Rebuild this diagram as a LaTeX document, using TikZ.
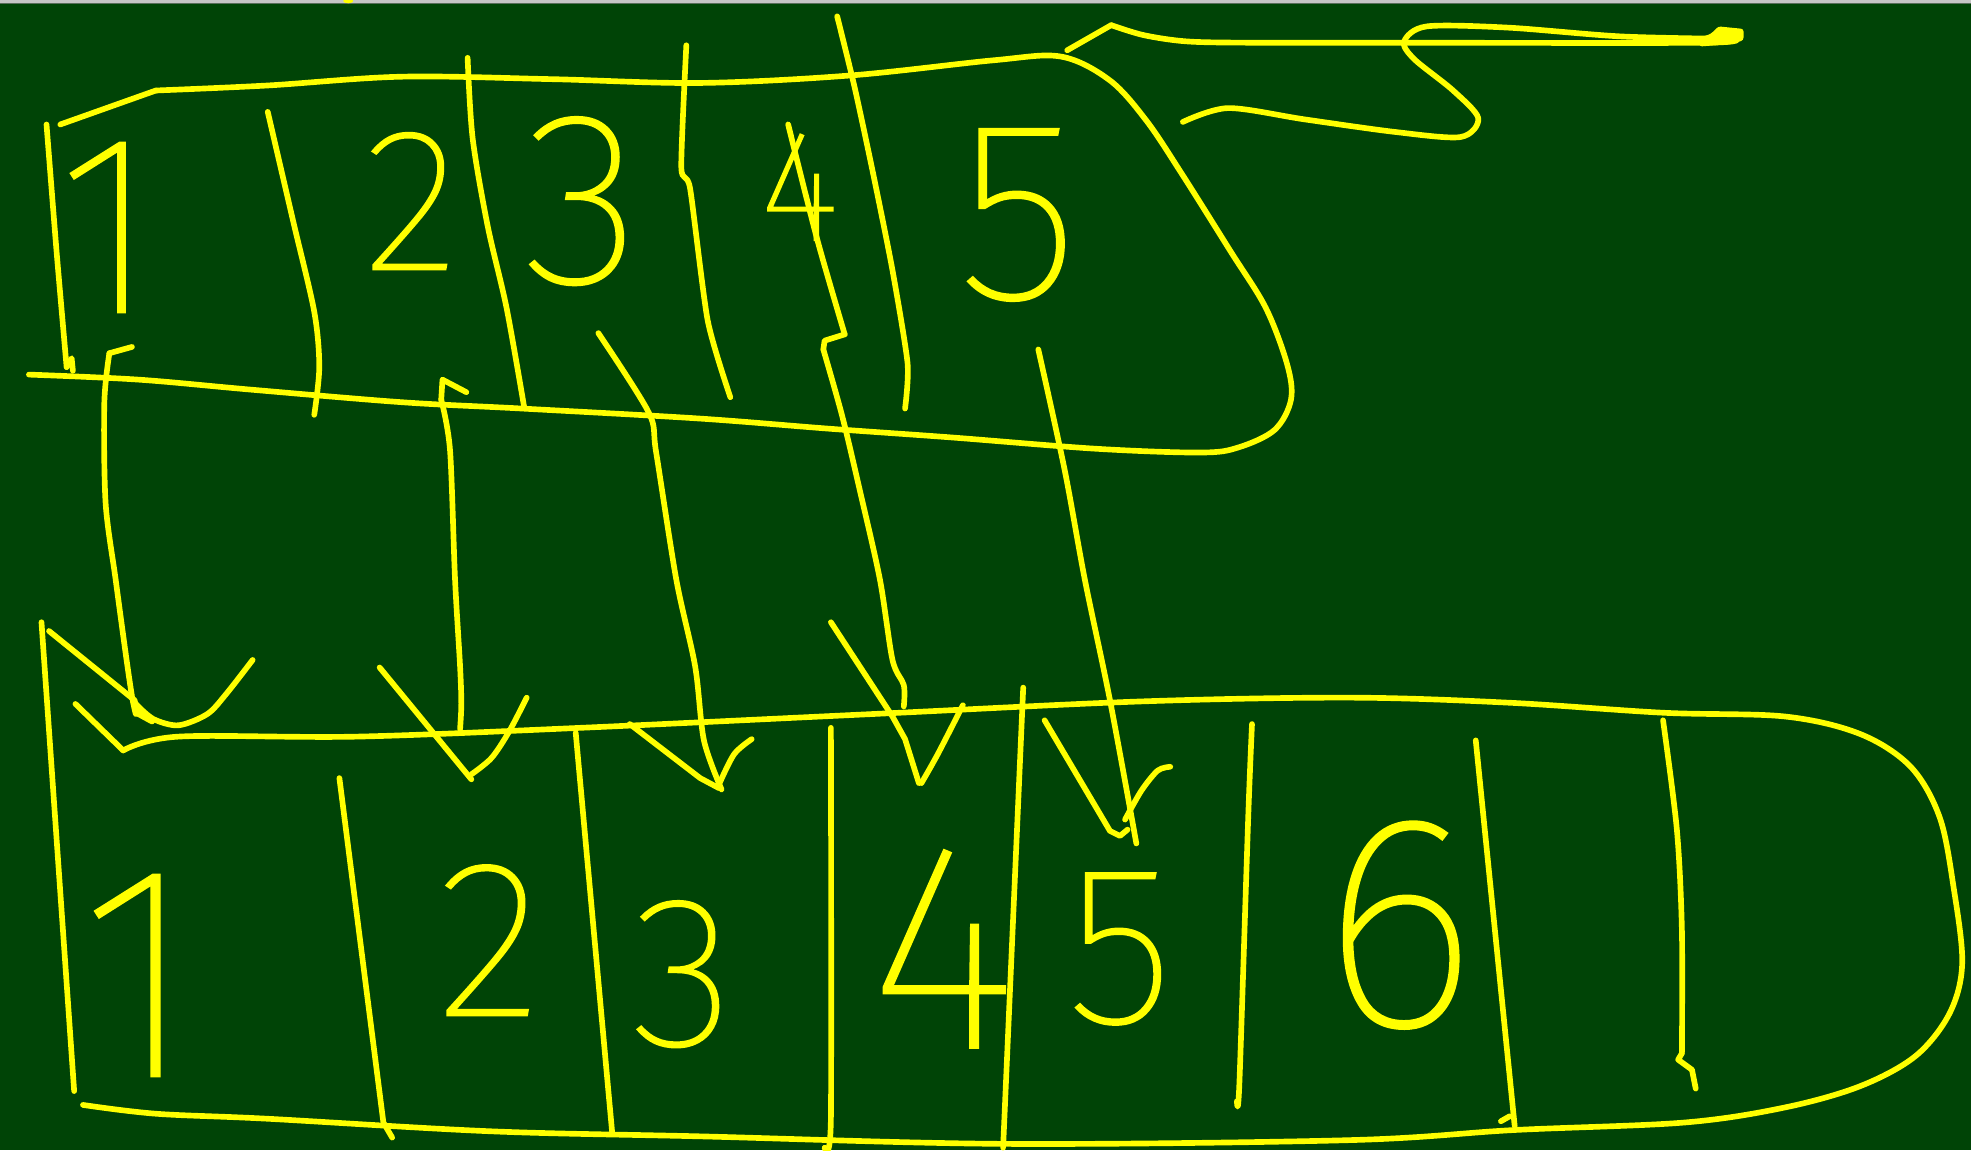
\documentclass[tikz,border=0pt]{standalone}
\usepackage{fontspec}
\IfFontExistsTF{Fira Sans Thin}{\newfontfamily\dfont{Fira Sans Thin}[FakeBold=1.2]}{%
 \IfFontExistsTF{Fira Sans ExtraLight}{\newfontfamily\dfont{Fira Sans ExtraLight}}{%
  \IfFontExistsTF{Lato Hairline}{\newfontfamily\dfont{Lato Hairline}[FakeBold=1.2]}{%
   \IfFontExistsTF{Fira Sans Light}{\newfontfamily\dfont{Fira Sans Light}}{%
    \IfFontExistsTF{Open Sans Light}{\newfontfamily\dfont{Open Sans Light}}{%
     \newfontfamily\dfont{Fira Sans}}}}}}
\newcommand\digsz[1]{\dfont\fontsize{#1}{#1}\selectfont}
\definecolor{board}{RGB}{0,68,6}
\definecolor{chalk}{RGB}{255,255,0}
\begin{document}
\begin{tikzpicture}[x=1pt,y=-1pt,
  chalkline/.style={draw=chalk,line width=4.5pt,line cap=round,line join=round},
  digit/.style={text=chalk,inner sep=0pt,anchor=center}]
\fill[board] (0,0) rectangle (1568,915);
\useasboundingbox (0,0) rectangle (1568,915);
\fill[gray!45] (0,0) rectangle (1568,2);
\fill[gray!70!board] (0,2) rectangle (1568,3.4);
\fill[chalk] (277,0.8) ellipse [x radius=4, y radius=1.8];

% ---------- top box ----------
\draw[chalkline] (48,99) -- (124,72);
\draw[chalkline] plot[smooth,tension=0.55] coordinates {(124,72) (213,68) (320,61) (440,63) (557,66) (677,60) (790,48) (844,45) (883,64) (912,96) (940,138) (979,200) (1007,245) (1024,290) (1027,318) (1014,342) (985,356) (955,360) (872,357) (757,348) (659,341) (557,333) (415,325) (320,320) (200,310) (110,302) (23,298)};
\draw[chalkline] plot[smooth,tension=0.4] coordinates {(37,99) (45,200) (53,292)};
\draw[chalkline] (53,292) -- (57,285) -- (58,295);
\draw[chalkline] plot[smooth,tension=0.5] coordinates {(213,89) (233,175) (250,248) (254,292) (250,330)};
\draw[chalkline] plot[smooth,tension=0.5] coordinates {(372,46) (376,110) (388,180) (403,245) (417,324)};
\draw[chalkline] plot[smooth,tension=0.4] coordinates {(546,36) (542,133) (549,150) (563,255) (581,316)};
\draw[chalkline] plot[smooth,tension=0.4] coordinates {(666,13) (680,70) (695,140) (710,215) (722,289) (720,325)};

% top digits
\node[digit] (t1) at (86,181) {\digsz{203}1};
\node[digit] (t2) at (327,160) {\digsz{161}2};
\node[digit] (t3) at (463,160) {\digsz{195}3};
\node[digit] (t4) at (636,149) {\digsz{125}4};
\node[digit] (t5) at (810,171) {\digsz{203}5};

% scribble top right
\draw[chalkline] (849,40) -- (884,20);
\draw[chalkline] plot[smooth,tension=0.5] coordinates {(884,20) (910,28) (945,33) (1000,34) (1119,34) (1355,34) (1380,31)};
\draw[chalkline] plot[smooth,tension=0.5] coordinates {(941,97) (977,86) (1038,95) (1110,105) (1162,109) (1176,94) (1156,72) (1125,47) (1117,33) (1135,21) (1200,22) (1290,29) (1380,31)};
\fill[chalk, rounded corners=2pt] (1352,30) -- (1361,27) -- (1367,21) -- (1377,22) -- (1387,23) -- (1387,32) -- (1378,35) -- (1352,37) -- cycle;

% ---------- arrows ----------
\draw[chalkline] (105,276) -- (87,281);
\draw[chalkline] plot[smooth,tension=0.5] coordinates {(87,281) (83,320) (84,400) (92,461) (100,520) (105,554) (108,568)};
\draw[chalkline] (39,502) -- (107,557) -- (110,568) -- (121,574);
\draw[chalkline] plot[smooth,tension=0.5] coordinates {(108,560) (122,572) (142,577) (165,568) (180,552) (201,525)};

\draw[chalkline] (371,312) -- (352,302) -- (351,318);
\draw[chalkline] plot[smooth,tension=0.5] coordinates {(351,318) (358,358) (362,461) (366,530) (367,560) (366,580)};
\draw[chalkline] (302,531) -- (375,620);
\draw[chalkline] plot[smooth,tension=0.5] coordinates {(375,616) (391,603) (405,582) (419,555)};

\draw[chalkline] plot[smooth,tension=0.5] coordinates {(476,265) (516,328) (522,360) (538,461) (553,530) (560,589) (574,628)};
\draw[chalkline] (501,576) -- (557,619) -- (572,627);
\draw[chalkline] plot[smooth,tension=0.5] coordinates {(572,624) (584,600) (598,588)};

\draw[chalkline] plot[smooth,tension=0.5] coordinates {(627,99) (650,190) (672,266)};
\draw[chalkline] (672,266) -- (656,271) -- (655,278);
\draw[chalkline] plot[smooth,tension=0.5] coordinates {(655,278) (670,331) (684,390) (700,461) (710,525) (719,545) (719,562)};
\draw[chalkline] (661,495) -- (710,570) -- (720,588) -- (731,623);
\draw[chalkline] plot[smooth,tension=0.5] coordinates {(733,623) (746,600) (766,561)};

\draw[chalkline] plot[smooth,tension=0.5] coordinates {(826,278) (847,374) (863,461) (883,557) (904,671)};
\draw[chalkline] (831,573) -- (883,661) -- (891,665) -- (897,660);
\draw[chalkline] plot[smooth,tension=0.5] coordinates {(895,652) (908,629) (921,613) (931,610)};

% ---------- bottom box ----------
\draw[chalkline] (33,495) -- (59,868);
\draw[chalkline] (60,560) -- (98,597);
\draw[chalkline] plot[smooth,tension=0.55] coordinates {(98,597) (142,586) (284,586) (462,579) (695,568) (908,558) (1074,555) (1200,559) (1323,567) (1420,570) (1480,584) (1520,610) (1543,650) (1554,705) (1561,766) (1551,806) (1524,840) (1480,864) (1420,881) (1340,893) (1204,899) (1074,907) (801,910) (557,904) (391,900) (213,890) (124,886) (66,879)};
\draw[chalkline] (270,619) -- (305,893) -- (312,905);
\draw[chalkline] (458,583) -- (487,901);
\draw[chalkline] plot[smooth,tension=0.4] coordinates {(661,579) (661,890) (656,913)};
\draw[chalkline] (814,547) -- (798,913);
\draw[chalkline] plot[smooth,tension=0.5] coordinates {(996,576) (993,650) (986,861) (984,876)};
\draw[chalkline] (1174,589) -- (1205,896);
\draw[chalkline] (1201,888) -- (1194,892);
\draw[chalkline] plot[smooth,tension=0.5] coordinates {(1323,573) (1334,660) (1338,740) (1338,838)};
\draw[chalkline] (1338,838) -- (1335,843) -- (1346,851) -- (1349,866);

% bottom digits
\node[digit] (b1) at (111,776) {\digsz{241}1};
\node[digit] (b2) at (389,748) {\digsz{177}2};
\node[digit] (b3) at (543,775) {\digsz{170}3};
\node[digit] (b4) at (750,755) {\digsz{232}4};
\node[digit] (b5) at (891,755) {\digsz{179}5};
\node[digit] (b6) at (1113,736) {\digsz{240}6};
\end{tikzpicture}
\end{document}
